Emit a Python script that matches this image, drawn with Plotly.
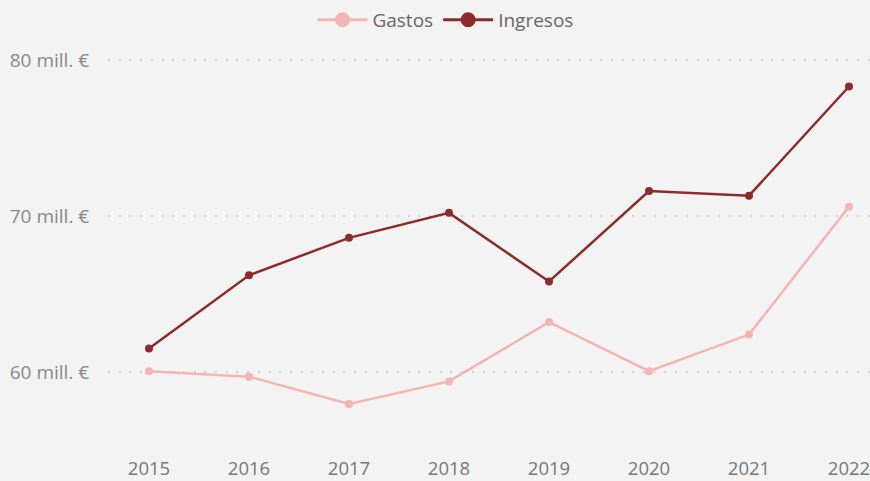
import plotly.graph_objects as go

years = ["2015", "2016", "2017", "2018", "2019", "2020", "2021", "2022"]
gastos = [60.05, 59.7, 57.95, 59.4, 63.2, 60.05, 62.4, 70.6]
ingresos = [61.5, 66.2, 68.6, 70.2, 65.8, 71.6, 71.3, 78.3]
ytick_vals = [60, 70, 80]
ytick_text = ["60 mill. €", "70 mill. €", "80 mill. €"]

C_GASTOS = "#F4B4B2"
C_INGRESOS = "#8C2B2B"

x_idx = list(range(len(years)))

fig = go.Figure()
for name, vals, col in [("Gastos", gastos, C_GASTOS), ("Ingresos", ingresos, C_INGRESOS)]:
    fig.add_trace(go.Scatter(x=x_idx, y=vals, name=name, mode="lines+markers",
                             line=dict(color=col, width=2.5),
                             marker=dict(size=8, color=col),
                             legendgroup=name, showlegend=False))
    # legend-only entry with a larger marker
    fig.add_trace(go.Scatter(x=[None], y=[None], name=name, mode="lines+markers",
                             line=dict(color=col, width=3),
                             marker=dict(size=15, color=col),
                             legendgroup=name, showlegend=True))

fig.update_layout(
    width=870, height=481,
    paper_bgcolor="#F3F3F3", plot_bgcolor="#F3F3F3",
    margin=dict(l=108, r=0, t=40, b=33),
    font=dict(family="Open Sans, Noto Sans, sans-serif", color="#777777"),
    legend=dict(orientation="h", x=0.512, xanchor="center", xref="container",
                y=0.998, yanchor="top", yref="container",
                font=dict(size=19, color="#666666"),
                itemwidth=50, bgcolor="rgba(0,0,0,0)", tracegroupgap=0,
                itemsizing="trace"),
    showlegend=True,
)
fig.update_xaxes(
    tickmode="array", tickvals=x_idx, ticktext=years,
    range=[-0.41, 7.21], showgrid=False, zeroline=False, showline=False,
    tickfont=dict(size=18.5, color="#777777"),
    ticks="outside", ticklen=4, tickcolor="rgba(0,0,0,0)", automargin=False,
    ticklabeloverflow="allow",
)
fig.update_yaxes(
    tickmode="array", tickvals=ytick_vals, ticktext=ytick_text,
    range=[55.13, 81.28], showgrid=True, gridcolor="#D2D2D2", griddash="2px,8.7px",
    gridwidth=2, zeroline=False, showline=False,
    tickfont=dict(size=19, color="#888888"),
    ticks="outside", ticklen=14, tickcolor="rgba(0,0,0,0)", automargin=False,
)

fig.write_html("out.html", config={"displayModeBar": False},
               post_script="document.body.style.margin='0';document.body.style.overflow='hidden';")
